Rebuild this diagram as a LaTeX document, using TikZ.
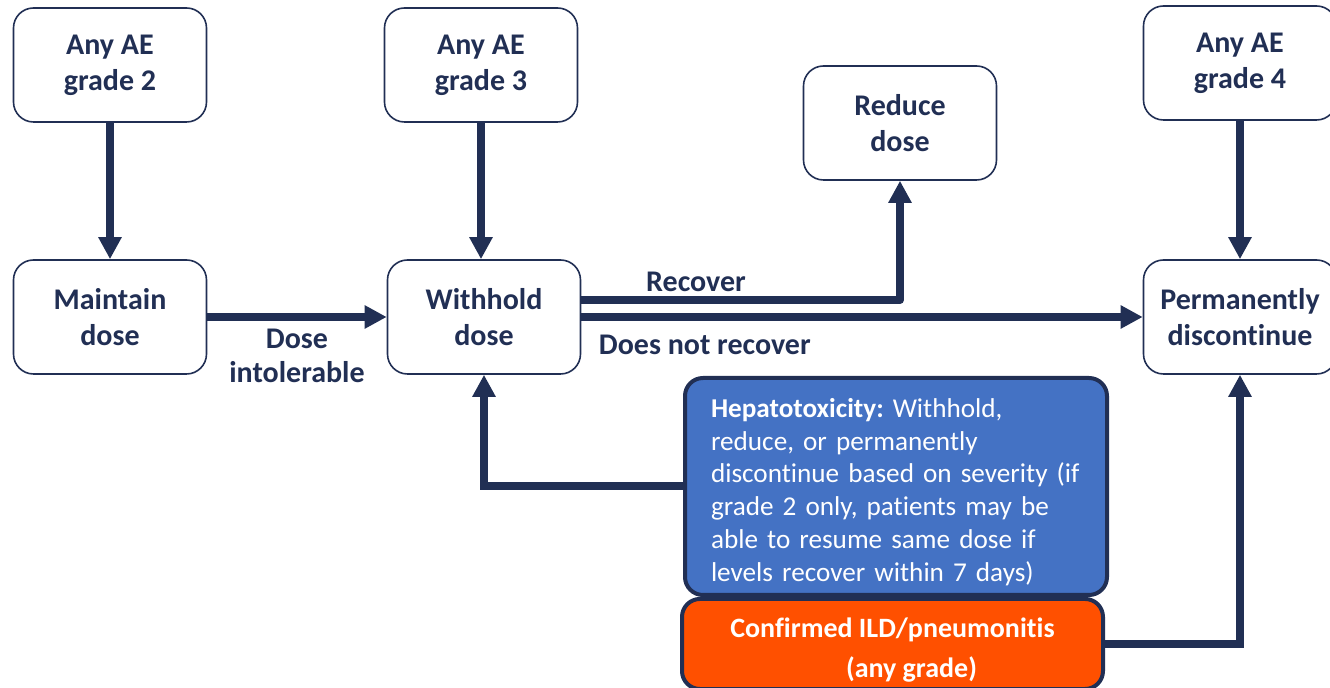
\documentclass[tikz,border=0pt]{standalone}
\usepackage{fontspec}
\setmainfont[Ligatures=NoCommon]{Carlito}
\usetikzlibrary{arrows.meta, positioning}
\definecolor{navy}{RGB}{33,47,84}
\definecolor{hepblue}{RGB}{68,114,196}
\definecolor{ildorange}{RGB}{255,80,0}
\frenchspacing

\begin{document}
\begin{tikzpicture}[x=0.5pt, y=-0.5pt, >={Triangle[length=11pt, width=11pt]},
  box/.style={draw=navy, line width=0.8pt, rounded corners=10pt,
    minimum width=96.5pt, minimum height=57pt, align=center,
    font=\fontsize{15}{18}\selectfont\bfseries, text=navy},
  flow/.style={->, draw=navy, line width=4pt},
  lbl/.style={font=\fontsize{15}{17}\selectfont\bfseries, text=navy, align=center}]
  \useasboundingbox (0,0) rectangle (1330,688);

  \node[box] (ae2) at (110, 65)  {Any AE\\grade 2};
  \node[box] (ae3) at (481, 65)  {Any AE\\grade 3};
  \node[box] (rd)  at (900, 123) {Reduce\\dose};
  \node[box] (ae4) at (1240, 63) {Any AE\\grade 4};
  \node[box] (md)  at (110, 317) {Maintain\\dose};
  \node[box] (wh)  at (484, 317) {Withhold\\dose};
  \node[box] (pd)  at (1240, 317) {Permanently\\discontinue};

  \node[draw=navy, line width=2pt, fill=hepblue, rounded corners=9pt,
    minimum width=211pt, minimum height=108.5pt, text width=185pt, align=left,
    text=white, font=\fontsize{13.6}{16.4}\selectfont] (hep) at (896, 486.5)
    {\rule{0pt}{15pt}\textbf{Hepatotoxicity:} Withhold,\\reduce, or permanently\\discontinue based on severity (if\\grade 2 only, patients may be\\able to resume same dose if\\levels recover within 7 days)};
  \node[draw=navy, line width=2pt, fill=ildorange, rounded corners=9pt,
    minimum width=210.5pt, minimum height=43pt, align=center,
    text=white, font=\fontsize{14}{20}\selectfont\bfseries] (ild) at (892.5, 644)
    {\rule{0pt}{16pt}Confirmed ILD/pneumonitis\\\hspace*{19pt}(any grade)};

  \draw[flow] (ae2) -- (md);
  \draw[flow] (ae3) -- (ae3 |- wh.north);
  \draw[flow] (ae4) -- (pd);
  \draw[flow] (md) -- node[lbl, below, inner sep=4pt] {Dose\\intolerable} (wh);
  \draw[flow, line join=round] (wh.east |- 0,300) -- node[lbl, above, pos=0.36, inner sep=2pt] {Recover}
    (rd.south |- 0,300) -- (rd.south);
  \draw[flow] (wh) -- node[lbl, below, pos=0.22, inner sep=7pt] {Does not recover} (pd);
  \draw[flow] (hep.west) -| (wh.south);
  \draw[flow] (ild.east) -| (pd.south);
\end{tikzpicture}
\end{document}
